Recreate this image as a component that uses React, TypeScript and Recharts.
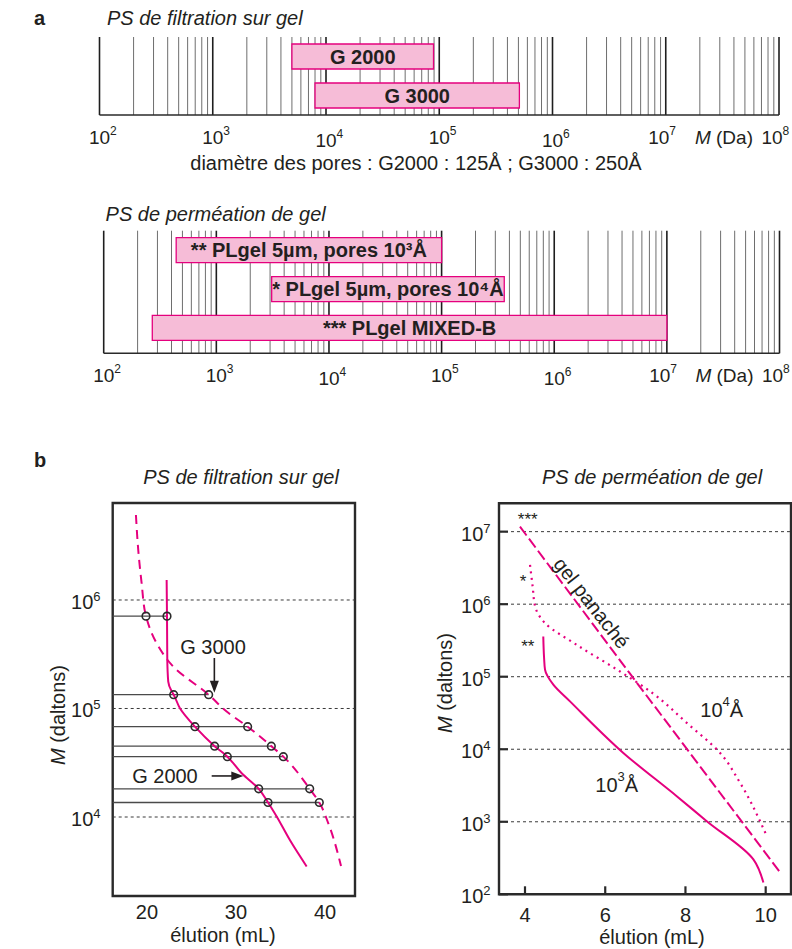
import React from 'react';
import {
  BarChart, Bar, ComposedChart, Line, Scatter, XAxis, YAxis, CartesianGrid,
  ReferenceArea, ReferenceLine, ReferenceDot, LabelList,
} from 'recharts';

const FONT = '"Liberation Sans", Arial, Helvetica, sans-serif';
const INK = '#231f20';
const FRAME = '#2a2a2a';
const MAGENTA = '#e5007e';
const PINK = '#f6bcd7';

// ---- panel a : working ranges of the columns (Da)
const decades = [1e2, 1e3, 1e4, 1e5, 1e6, 1e7, 1e8];
const minorSteps = [2, 3, 4, 5, 6, 7, 8, 9];
const minorLines = decades.slice(0, -1).flatMap((d) => minorSteps.map((m) => m * d));

const filtrationColumns = ['G 2000', 'G 3000'];
const filtrationFrom = [5000, 8000];
const filtrationTo = [89000, 510000];

const permeationColumns = ['** PLgel 5µm, pores 10³Å', '* PLgel 5µm, pores 10⁴Å', '*** PLgel MIXED-B'];
const permeationFrom = [440, 3100, 270];
const permeationTo = [100000, 360000, 10000000];

// ---- panel b, left : TSK G2000 / G3000 calibration
const calibMass = [710000, 134000, 68000, 45000, 36000, 18200, 13600];
const calibG2000 = [22.25, 23.0, 25.39, 27.6, 29.03, 32.55, 33.6];
const calibG3000 = [19.89, 26.93, 31.31, 33.97, 35.32, 38.28, 39.36];

const g2000Elution = [22.21, 22.25, 22.28, 22.39, 22.77, 23.0, 23.72, 25.39, 27.6, 29.03, 30.64, 32.55, 33.6, 34.57, 36.07, 37.94];
const g2000Mass = [1530000, 710000, 291000, 177000, 144000, 134000, 100000, 68000, 45000, 36000, 25300, 18200, 13600, 10100, 6100, 3500];

const g3000Elution = [18.76, 19.02, 19.4, 19.89, 21.09, 22.96, 26.93, 28.95, 31.31, 33.97, 35.32, 38.28, 39.36, 40.37, 41.8];
const g3000Mass = [6070000, 2890000, 1430000, 710000, 399000, 243000, 134000, 93800, 68000, 45000, 36000, 18200, 13600, 8750, 3530];

// ---- panel b, right : PLgel calibration
const mixedElution = [3.875, 6.618, 10.376];
const mixedMass = [11700000, 110000, 195];

const pores3Elution = [4.456, 4.474, 4.499, 4.706, 5.122, 6.451, 7.783, 8.531, 9.693, 9.943];
const pores3Mass = [359000, 190000, 125000, 77600, 45700, 8900, 2250, 1020, 303, 145];

const pores4Elution = [4.125, 4.191, 4.249, 4.499, 5.289, 6.369, 7.2, 8.032, 8.863, 9.362, 10.027];
const pores4Mass = [3480000, 1750000, 950000, 548000, 275000, 118000, 58300, 23100, 8900, 3440, 634];

const FILT_X = [16.15, 43.37];
const FILT_Y = [1871, 7830000];
const PERM_X = [3.352, 10.631];
const PERM_Y = [100, 24600000];

const pairs = (xs: number[], ys: number[]) => xs.map((x, i) => ({ x, y: ys[i] }));

const DecadeTick = (props: any) => {
  const { x, y, payload } = props;
  const e = Math.round(Math.log10(payload.value));
  const low = e === 4 || e === 6;
  const cx = x + (e >= 7 ? -7 : 0);
  const by = y + (low ? 32 : 29);
  return (
    <g fill={INK}>
      {e === 8 && (
        <text x={x - 26} y={y + 29} textAnchor="end" fontSize={19}>
          <tspan fontStyle="italic">M</tspan> (Da)
        </text>
      )}
      <text x={cx} y={by} textAnchor="middle" fontSize={19}>10</text>
      <text x={cx + 10.5} y={by - 9} fontSize={12}>{e}</text>
    </g>
  );
};

const BarLabel = (props: any) => {
  const { x, y, width, height, value } = props;
  return (
    <text x={x + width / 2} y={y + height / 2 + 7} textAnchor="middle" fontSize={20} fontWeight="bold" fill={INK}>
      {value}
    </text>
  );
};

function RangeStrip({ columns, from, to, height, axisHeight, margin, padBottom }: any) {
  const rows = columns.map((name: string, i: number) => ({ name, range: [from[i], to[i]] }));
  const edge = { stroke: FRAME, strokeWidth: 1.6 };
  return (
    <BarChart layout="vertical" width={792} height={height} data={rows} margin={margin}>
      <CartesianGrid horizontal={false} verticalValues={minorLines} stroke="#6e6e6e" strokeWidth={1} />
      <CartesianGrid horizontal={false} verticalValues={decades} stroke="#1e1e1e" strokeWidth={1.6} />
      <XAxis type="number" scale="log" domain={[1e2, 1e8]} ticks={decades} interval={0} allowDataOverflow
        height={axisHeight} tickSize={0} tickMargin={0} tickLine={false} axisLine={edge} tick={<DecadeTick />} />
      <XAxis xAxisId="top" orientation="top" type="number" scale="log" domain={[1e2, 1e8]} allowDataOverflow
        height={0} tick={false} tickLine={false} axisLine={edge} />
      <YAxis type="category" dataKey="name" width={0} tick={false} tickLine={false}
        padding={{ top: 0, bottom: padBottom }} axisLine={edge} />
      <YAxis yAxisId="right" orientation="right" type="number" domain={[0, 1]} width={0} tick={false} tickLine={false} axisLine={edge} />
      <Bar dataKey="range" fill={PINK} stroke={MAGENTA} strokeWidth={1.3} barSize={25} isAnimationActive={false}>
        <LabelList dataKey="name" content={<BarLabel />} />
      </Bar>
    </BarChart>
  );
}

const MassTick = (props: any) => {
  const { x, y, payload, gap, inner } = props;
  const e = Math.round(Math.log10(payload.value));
  return (
    <g fill={INK}>
      {inner ? <line x1={x} x2={x + inner} y1={y} y2={y} stroke={FRAME} strokeWidth={2.2} /> : null}
      <text x={x - gap} y={y + 9} textAnchor="end" fontSize={20}>10</text>
      <text x={x - gap} y={y + 1} fontSize={13}>{e}</text>
    </g>
  );
};

const ElutionTick = (props: any) => {
  const { x, y, payload, dy, inner } = props;
  return (
    <g>
      {inner ? <line x1={x} x2={x} y1={y} y2={y - inner} stroke={FRAME} strokeWidth={2.2} /> : null}
      <text x={x} y={y + dy} textAnchor="middle" fontSize={20} fill={INK}>{payload.value}</text>
    </g>
  );
};

const OpenCircle = (props: any) => (
  <circle cx={props.cx} cy={props.cy} r={3.8} fill="none" stroke="#2b2b2b" strokeWidth={1.6} />
);

const ArrowHead = (props: any) => {
  const { cx, cy, dir } = props;
  const pts = dir === 'down'
    ? `${cx},${cy} ${cx - 4.5},${cy - 12} ${cx + 4.5},${cy - 12}`
    : `${cx},${cy} ${cx - 12},${cy - 4.5} ${cx - 12},${cy + 4.5}`;
  return <polygon points={pts} fill={INK} />;
};

const Note = (props: any) => {
  const { cx, cy, text, sup, tail, size = 20, rotate = 0 } = props;
  return (
    <text x={cx} y={cy} textAnchor="middle" dominantBaseline="central" fontSize={size} fill={INK}
      transform={rotate ? `rotate(${rotate} ${cx} ${cy})` : undefined}>
      {text}
      {sup ? <tspan fontSize={13} dy={-9}>{sup}</tspan> : null}
      {tail ? <tspan dy={9}>{tail}</tspan> : null}
    </text>
  );
};

function FiltrationCalibration() {
  const g2000 = pairs(g2000Elution, g2000Mass);
  const g3000 = pairs(g3000Elution, g3000Mass);
  const points = [...pairs(calibG2000, calibMass), ...pairs(calibG3000, calibMass)];
  return (
    <ComposedChart width={396} height={509} margin={{ top: 63, right: 41, bottom: 0, left: 0 }}>
      <XAxis type="number" dataKey="x" domain={FILT_X} ticks={[20, 30, 40]} allowDataOverflow height={53}
        tickSize={0} tickMargin={0} tickLine={false} axisLine={false} tick={<ElutionTick dy={22.9} />} />
      <YAxis type="number" dataKey="y" scale="log" domain={FILT_Y} ticks={[1e4, 1e5, 1e6]} allowDataOverflow width={112.7}
        tickSize={0} tickMargin={0} tickLine={false} axisLine={false} tick={<MassTick gap={19.4} />} />
      {[1e4, 1e5, 1e6].map((v) => (
        <ReferenceLine key={v} y={v} stroke="#3a3a3a" strokeWidth={1} strokeDasharray="3 3" />
      ))}
      {calibMass.map((m, i) => (
        <ReferenceLine key={m} segment={[{ x: FILT_X[0], y: m }, { x: Math.max(calibG2000[i], calibG3000[i]), y: m }]}
          stroke="#4a4a4a" strokeWidth={1.3} />
      ))}
      <Line data={g3000} dataKey="y" type="monotoneY" stroke={MAGENTA} strokeWidth={2} strokeDasharray="9 6"
        dot={false} isAnimationActive={false} />
      <Line data={g2000} dataKey="y" type="monotoneY" stroke={MAGENTA} strokeWidth={2}
        dot={false} isAnimationActive={false} />
      <Scatter data={points} dataKey="y" shape={<OpenCircle />} isAnimationActive={false} />
      <ReferenceLine segment={[{ x: 27.57, y: 292000 }, { x: 27.57, y: 150000 }]} stroke={INK} strokeWidth={1.6} />
      <ReferenceDot x={27.57} y={140000} shape={<ArrowHead dir="down" />} />
      <ReferenceLine segment={[{ x: 27.27, y: 23900 }, { x: 30.3, y: 23900 }]} stroke={INK} strokeWidth={1.6} />
      <ReferenceDot x={30.82} y={23900} shape={<ArrowHead dir="right" />} />
      <ReferenceDot x={27.42} y={369000} shape={<Note text="G 3000" />} />
      <ReferenceDot x={22.02} y={23900} shape={<Note text="G 2000" />} />
      <ReferenceArea x1={FILT_X[0]} x2={FILT_X[1]} y1={FILT_Y[0]} y2={FILT_Y[1]} fill="none"
        stroke={FRAME} strokeWidth={2.4} ifOverflow="visible" />
    </ComposedChart>
  );
}

function PermeationCalibration() {
  return (
    <ComposedChart width={396} height={509} margin={{ top: 63.3, right: 1, bottom: 0, left: 0 }}>
      <XAxis type="number" dataKey="x" domain={PERM_X} ticks={[4, 6, 8, 10]} allowDataOverflow height={54.7}
        tickSize={0} tickMargin={0} tickLine={false} axisLine={false} tick={<ElutionTick dy={27.9} inner={8} />} />
      <YAxis type="number" dataKey="y" scale="log" domain={PERM_Y} ticks={[1e2, 1e3, 1e4, 1e5, 1e6, 1e7]} allowDataOverflow
        width={103} tickSize={0} tickMargin={0} tickLine={false} axisLine={false} tick={<MassTick gap={15.7} inner={9} />} />
      {[1e3, 1e4, 1e5, 1e6, 1e7].map((v) => (
        <ReferenceLine key={v} y={v} stroke="#3a3a3a" strokeWidth={1} strokeDasharray="3 3" />
      ))}
      <Line data={pairs(mixedElution, mixedMass)} dataKey="y" type="linear" stroke={MAGENTA} strokeWidth={2}
        strokeDasharray="11 4" dot={false} isAnimationActive={false} />
      <Line data={pairs(pores4Elution, pores4Mass)} dataKey="y" type="monotoneY" stroke={MAGENTA} strokeWidth={2.2}
        strokeDasharray="2 4.5" dot={false} isAnimationActive={false} />
      <Line data={pairs(pores3Elution, pores3Mass)} dataKey="y" type="monotoneY" stroke={MAGENTA} strokeWidth={2}
        dot={false} isAnimationActive={false} />
      <ReferenceDot x={4.07} y={14500000} shape={<Note text="***" size={17} />} />
      <ReferenceDot x={3.95} y={2030000} shape={<Note text="*" size={17} />} />
      <ReferenceDot x={4.07} y={259000} shape={<Note text="**" size={17} />} />
      <ReferenceDot x={5.66} y={1040000} shape={<Note text="gel panaché" rotate={52} />} />
      <ReferenceDot x={8.905} y={35200} shape={<Note text="10" sup="4" tail="Å" />} />
      <ReferenceDot x={6.287} y={3260} shape={<Note text="10" sup="3" tail="Å" />} />
      <ReferenceArea x1={PERM_X[0]} x2={PERM_X[1]} y1={PERM_Y[0]} y2={PERM_Y[1]} fill="none"
        stroke={FRAME} strokeWidth={2.4} ifOverflow="visible" />
    </ComposedChart>
  );
}

export default function App() {
  return (
    <div style={{ position: 'absolute', left: 0, top: 0, width: 792, height: 949, fontFamily: FONT, background: '#fff' }}>
      <svg width={792} height={949} style={{ position: 'absolute', left: 0, top: 0 }} fill={INK}>
        <text x={34} y={25} fontSize={20} fontWeight="bold">a</text>
        <text x={107} y={24.5} fontSize={20} fontStyle="italic">PS de filtration sur gel</text>
        <text x={416} y={170} fontSize={20} textAnchor="middle">diamètre des pores : G2000 : 125Å ; G3000 : 250Å</text>
        <text x={105.6} y={221} fontSize={20} fontStyle="italic">PS de perméation de gel</text>
        <text x={34} y={467} fontSize={20} fontWeight="bold">b</text>
        <text x={241} y={484} fontSize={20} fontStyle="italic" textAnchor="middle">PS de filtration sur gel</text>
        <text x={652} y={484} fontSize={20} fontStyle="italic" textAnchor="middle">PS de perméation de gel</text>
        <text transform="translate(65 715) rotate(-90)" fontSize={20} textAnchor="middle">
          <tspan fontStyle="italic">M</tspan> (daltons)
        </text>
        <text x={223} y={942} fontSize={20} textAnchor="middle">élution (mL)</text>
        <text transform="translate(452 683) rotate(-90)" fontSize={20} textAnchor="middle">
          <tspan fontStyle="italic">M</tspan> (daltons)
        </text>
        <text x={652} y={944} fontSize={20} textAnchor="middle">élution (mL)</text>
      </svg>
      <div style={{ position: 'absolute', left: 0, top: 0 }}>
        <RangeStrip columns={filtrationColumns} from={filtrationFrom} to={filtrationTo} height={180} axisHeight={40}
          margin={{ top: 37, right: 13, bottom: 25, left: 99.5 }} padBottom={0} />
      </div>
      <div style={{ position: 'absolute', left: 0, top: 190 }}>
        <RangeStrip columns={permeationColumns} from={permeationFrom} to={permeationTo} height={200} axisHeight={30}
          margin={{ top: 40.7, right: 12.5, bottom: 6.7, left: 103.7 }} padBottom={6} />
      </div>
      <div style={{ position: 'absolute', left: 0, top: 440 }}>
        <FiltrationCalibration />
      </div>
      <div style={{ position: 'absolute', left: 396, top: 440 }}>
        <PermeationCalibration />
      </div>
    </div>
  );
}
